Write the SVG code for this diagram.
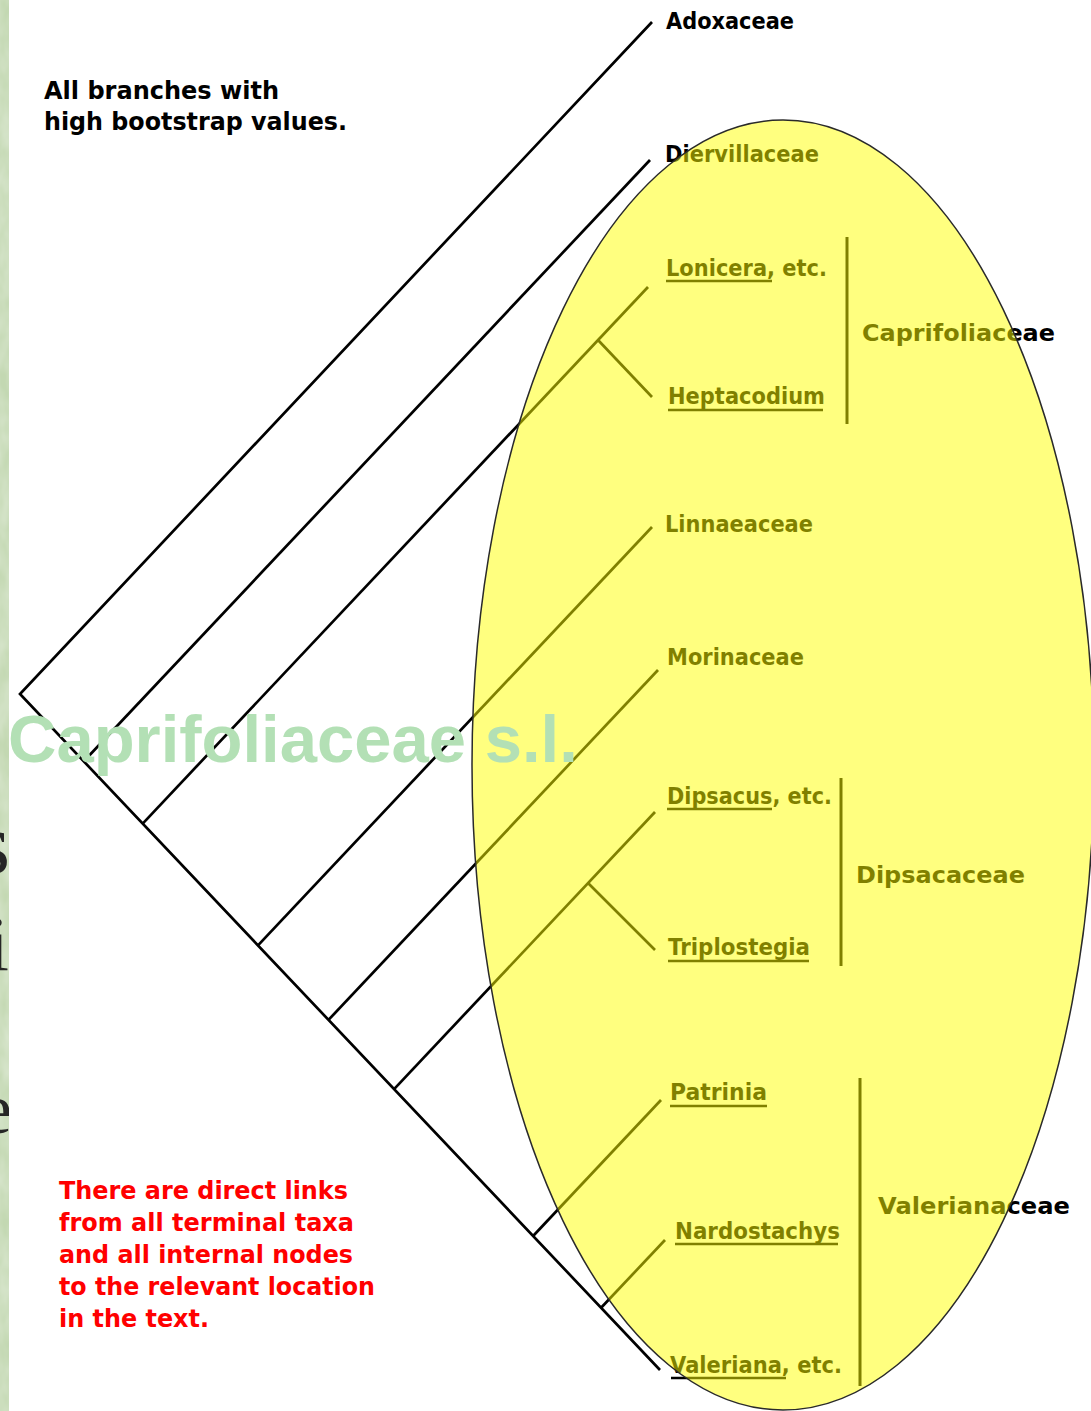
<svg xmlns="http://www.w3.org/2000/svg" width="1091" height="1411" viewBox="0 0 1091 1411">
  <style>
    .br{stroke:#000;stroke-width:2.7;fill:none;stroke-linejoin:miter}
    .bar{stroke:#000;stroke-width:3;fill:none}
    .ul{stroke:#000;stroke-width:2.5}
    .lbl{font-family:"DejaVu Sans",Verdana,sans-serif;font-weight:bold;font-size:23px;fill:#000}
    .note{font-family:"DejaVu Sans",Verdana,sans-serif;font-weight:bold;font-size:24px;fill:#000}
    .red{fill:#ff0000}
    .title{font-family:"Liberation Sans",Arial,sans-serif;font-weight:bold;font-size:67px;fill:#b3e0b5}
    .slide{font-family:"Liberation Serif","Times New Roman",serif;fill:#262626}
  </style>
  <defs>
    <filter id="mottle" x="0" y="0" width="100%" height="100%">
      <feTurbulence type="fractalNoise" baseFrequency="0.06 0.03" numOctaves="3" seed="4" result="n"/>
      <feColorMatrix in="n" type="matrix" values="0 0 0 0 1  0 0 0 0 1  0 0 0 0 1  0 0 0 0.5 -0.1"/>
      <feComposite in2="SourceGraphic" operator="in"/>
    </filter>
  </defs>

  <!-- slide background strip with clipped body text -->
  <rect x="0" y="0" width="1091" height="1411" fill="#ffffff"/>
  <rect x="0" y="0" width="12" height="1411" fill="#c3d8b2"/>
  <rect x="0" y="0" width="12" height="1411" fill="#c3d8b2" filter="url(#mottle)"/>
  <text class="slide" x="10" y="873" text-anchor="end" font-size="86">s</text>
  <text class="slide" x="9" y="970" text-anchor="end" font-size="78">i</text>
  <text class="slide" x="12" y="1133" text-anchor="end" font-size="72">e</text>

  <!-- diagram panel -->
  <rect x="9" y="0" width="1082" height="1411" fill="#ffffff"/>

  <g id="note-bootstrap">
    <text class="note" x="44" y="99" textLength="235" lengthAdjust="spacingAndGlyphs">All branches with</text>
    <text class="note" x="44" y="130" textLength="303" lengthAdjust="spacingAndGlyphs">high bootstrap values.</text>
  </g>

  <g id="note-links" class="red">
    <text class="note red" x="59" y="1199" textLength="289" lengthAdjust="spacingAndGlyphs">There are direct links</text>
    <text class="note red" x="59" y="1231" textLength="295" lengthAdjust="spacingAndGlyphs">from all terminal taxa</text>
    <text class="note red" x="59" y="1263" textLength="294" lengthAdjust="spacingAndGlyphs">and all internal nodes</text>
    <text class="note red" x="59" y="1295" textLength="316" lengthAdjust="spacingAndGlyphs">to the relevant location</text>
    <text class="note red" x="59" y="1327" textLength="150" lengthAdjust="spacingAndGlyphs">in the text.</text>
  </g>

  <!-- tree branches -->
  <g id="connectors">
    <path class="br" d="M652,22 L20,694 L660,1370"/>
    <path class="br" d="M650,160 L83.8,761.3"/>
    <path class="br" d="M648,287 L142.7,823.6"/>
    <path class="br" d="M598,340 L652,397"/>
    <path class="br" d="M652,527 L258,945.4"/>
    <path class="br" d="M658,670 L328.5,1019.9"/>
    <path class="br" d="M655,812 L394.1,1089.1"/>
    <path class="br" d="M588,883 L655,950"/>
    <path class="br" d="M661,1100 L533.1,1236"/>
    <path class="br" d="M665,1240 L601.1,1307.8"/>
  </g>

  <!-- terminal taxa -->
  <g id="adoxaceae"><text class="lbl" x="666" y="29" textLength="128" lengthAdjust="spacingAndGlyphs">Adoxaceae</text></g>
  <g id="diervillaceae"><text class="lbl" x="665" y="162" textLength="154" lengthAdjust="spacingAndGlyphs">Diervillaceae</text></g>
  <g id="lonicera">
    <text class="lbl" x="666" y="276" textLength="161" lengthAdjust="spacingAndGlyphs">Lonicera, etc.</text>
    <line class="ul" x1="666" y1="281" x2="772" y2="281"/>
  </g>
  <g id="heptacodium">
    <text class="lbl" x="668" y="404" textLength="157" lengthAdjust="spacingAndGlyphs">Heptacodium</text>
    <line class="ul" x1="668" y1="410" x2="823" y2="410"/>
  </g>
  <g id="linnaeaceae"><text class="lbl" x="665" y="532" textLength="148" lengthAdjust="spacingAndGlyphs">Linnaeaceae</text></g>
  <g id="morinaceae"><text class="lbl" x="667" y="665" textLength="137" lengthAdjust="spacingAndGlyphs">Morinaceae</text></g>
  <g id="dipsacus">
    <text class="lbl" x="667" y="804" textLength="165" lengthAdjust="spacingAndGlyphs">Dipsacus, etc.</text>
    <line class="ul" x1="667" y1="809" x2="772" y2="809"/>
  </g>
  <g id="triplostegia">
    <text class="lbl" x="668" y="955" textLength="142" lengthAdjust="spacingAndGlyphs">Triplostegia</text>
    <line class="ul" x1="668" y1="961" x2="809" y2="961"/>
  </g>
  <g id="patrinia">
    <text class="lbl" x="670" y="1100" textLength="97" lengthAdjust="spacingAndGlyphs">Patrinia</text>
    <line class="ul" x1="670" y1="1106" x2="767" y2="1106"/>
  </g>
  <g id="nardostachys">
    <text class="lbl" x="675" y="1239" textLength="165" lengthAdjust="spacingAndGlyphs">Nardostachys</text>
    <line class="ul" x1="675" y1="1244" x2="838" y2="1244"/>
  </g>
  <g id="valeriana">
    <text class="lbl" x="670" y="1373" textLength="172" lengthAdjust="spacingAndGlyphs">Valeriana, etc.</text>
    <line class="ul" x1="671" y1="1378" x2="786" y2="1378"/>
  </g>

  <!-- family brackets -->
  <g id="caprifoliaceae">
    <line class="bar" x1="847" y1="237" x2="847" y2="424"/>
    <text class="lbl" x="862" y="341" textLength="193" lengthAdjust="spacingAndGlyphs">Caprifoliaceae</text>
  </g>
  <g id="dipsacaceae">
    <line class="bar" x1="841" y1="778" x2="841" y2="966"/>
    <text class="lbl" x="856" y="883" textLength="169" lengthAdjust="spacingAndGlyphs">Dipsacaceae</text>
  </g>
  <g id="valerianaceae">
    <line class="bar" x1="860" y1="1078" x2="860" y2="1386"/>
    <text class="lbl" x="878" y="1214" textLength="192" lengthAdjust="spacingAndGlyphs">Valerianaceae</text>
  </g>

  <!-- highlight over the core clade -->
  <ellipse id="highlight" cx="783" cy="765" rx="311" ry="645" fill="#ffff00" fill-opacity="0.5" stroke="#2a2a2a" stroke-width="1.5"/>

  <!-- slide title -->
  <text class="title" x="8" y="762">Caprifoliaceae s.l.</text>
</svg>
